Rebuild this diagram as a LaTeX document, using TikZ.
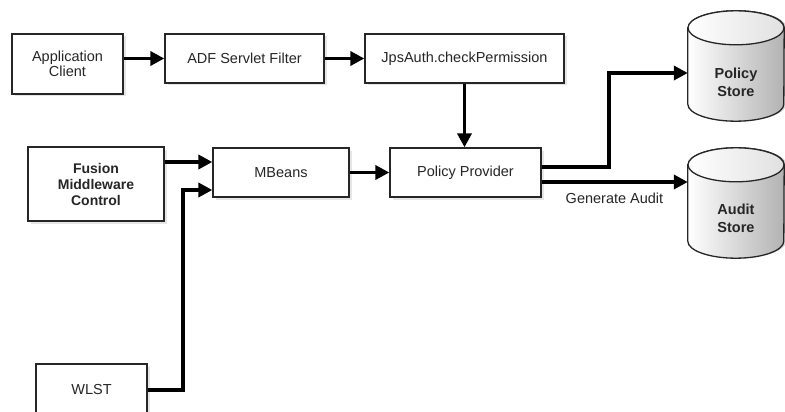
\documentclass[tikz,border=0pt]{standalone}
\usepackage{fontspec}
\setmainfont{Liberation Sans}
\usetikzlibrary{arrows.meta,shadows,calc}
\begin{document}
\begin{tikzpicture}[x=1pt,y=-1pt,
  box/.style={draw=black!85, line width=1.3pt, fill=white, align=center, inner sep=0pt,
    font=\fontsize{14.5}{15}\selectfont, text=black!85,
    drop shadow={shadow xshift=2.5pt, shadow yshift=-2.5pt, opacity=0.2}},
  boldbox/.style={box, font=\fontsize{14}{16}\selectfont\bfseries},
  conn/.style={line width=3.8pt, line join=miter, -{Triangle[length=14pt,width=14pt]}},
  storebody/.style={draw=none, minimum width=96pt, minimum height=110pt, inner sep=0pt},
  storetext/.style={align=center, font=\fontsize{14.5}{18}\selectfont\bfseries, text=black!85},
  lbl/.style={font=\fontsize{14.5}{15}\selectfont, text=black!85}
]
\useasboundingbox (0,0) rectangle (785,412);

% boxes
\node[box, minimum width=111pt, minimum height=60pt] (app) at (67.5,64) {Application\\Client};
\node[box, minimum width=159pt, minimum height=49pt] (adf) at (244.5,58.5) {ADF Servlet Filter};
\node[box, minimum width=199pt, minimum height=49pt] (jps) at (464.5,58.5) {JpsAuth.checkPermission};
\node[boldbox, minimum width=136pt, minimum height=74pt] (fmc) at (96,184) {Fusion\\Middleware\\Control};
\node[box, minimum width=136pt, minimum height=49pt] (mb) at (281,172.5) {MBeans};
\node[box, minimum width=151pt, minimum height=49pt] (pp) at (465.5,172.5) {Policy Provider};
\node[box, minimum width=111pt, minimum height=52pt] (wlst) at (91.5,390) {WLST};

% stores (anchor nodes)
\node[storebody] (ps) at (736,66) {};
\node[storebody] (as) at (736,203) {};

\foreach \s in {ps,as}{
  \fill[black!15] ($(\s.north west)+(2.5,17)$) -- ($(\s.south west)+(2.5,-17)$)
     arc (180:360:48pt and 17pt) -- ($(\s.north east)+(2.5,17)$)
     arc (0:180:48pt and 17pt) -- cycle;
  \shade[left color=white, right color=black!30, draw=black!85, line width=1.3pt]
     ($(\s.north west)+(0,17)$) -- ($(\s.south west)+(0,-17)$)
     arc (180:360:48pt and 17pt) -- ($(\s.north east)+(0,17)$)
     arc (0:180:48pt and 17pt) -- cycle;
  \shade[left color=white, right color=black!12, draw=black!85, line width=1.3pt]
     ($(\s.north)+(0,17)$) ellipse (48pt and 17pt);
}
\node[storetext] (pst) at (736,82) {Policy\\Store};
\node[storetext] (ast) at (736,218) {Audit\\Store};

% connectors
\draw[conn] (app.east |- adf.west) -- (adf.west);
\draw[conn] (adf.east) -- (jps.west);
\draw[conn] (jps.south) -- (jps.south |- pp.north);
\coordinate (mb1) at ($(mb.west)+(0,-10.5)$);
\coordinate (mb2) at ($(mb.west)+(0,17.5)$);
\draw[conn] (fmc.east |- mb1) -- (mb1);
\draw[conn] (wlst.east) -| ($(mb2)+(-29,0)$) -- (mb2);
\draw[conn] (mb.east) -- (pp.west);
\coordinate (psin) at ($(ps.west)+(0,7)$);
\draw[conn] ($(pp.east)+(0,-5.5)$) -- ++(67,0) |- (psin);
\coordinate (pa) at ($(pp.east)+(0,9.5)$);
\draw[conn] (pa) -- (as.west |- pa);
\node[lbl] (ga) at (614.5,198) {Generate Audit};
\end{tikzpicture}
\end{document}
